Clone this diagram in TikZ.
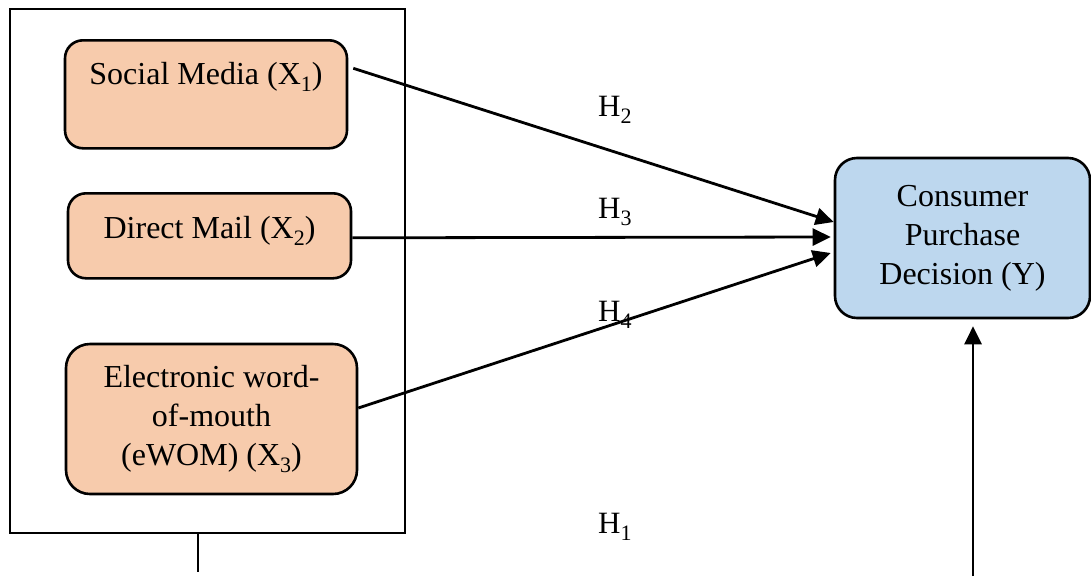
\documentclass[tikz,border=0pt]{standalone}
\usepackage{fontspec}
\setmainfont{Liberation Serif}
\usetikzlibrary{arrows.meta,calc}
\definecolor{orfill}{HTML}{F7CBAC}
\definecolor{blfill}{HTML}{BDD7EE}
\newcommand{\sbs}[1]{\raisebox{-0.24em}{\fontsize{22}{22}\selectfont #1}}
\begin{document}
\begin{tikzpicture}[x=1pt,y=-1pt,
  every node/.style={font=\fontsize{32}{39}\selectfont},
  varbox/.style={draw=black, line width=2.6pt, fill=orfill, rounded corners=18pt, align=center, inner xsep=0pt},
  depbox/.style={draw=black, line width=2.6pt, fill=blfill, rounded corners=22pt, align=center, inner sep=0pt},
  conn/.style={line width=2.8pt, -{Triangle[length=18pt,width=17pt]}},
  hlab/.style={anchor=base west, inner sep=0pt, font=\fontsize{31}{39}\selectfont}
]
\useasboundingbox (0,0) rectangle (1091,576);
% outer frame
\node[draw, line width=2.6pt, minimum width=395pt, minimum height=524pt, inner sep=0pt] (outer) at (207.5,271) {};
% independent variables
\node[varbox, anchor=north, minimum width=282pt, inner ysep=0pt, text height=44pt, text depth=64pt] (sm) at (206,39) {Social Media (X\sbs{1})};
\node[varbox, anchor=north, minimum width=283pt, inner ysep=0pt, text height=45pt, text depth=40pt] (dm) at (209.5,192) {Direct Mail (X\sbs{2})};
\node[varbox, minimum width=291pt, minimum height=150pt, rounded corners=24pt] (ew) at (211.5,419) {Electronic word-\\of-mouth\\(eWOM) (X\sbs{3})};
% dependent variable
\node[depbox, minimum width=255pt, minimum height=160pt] (cp) at (962.5,238) {Consumer\\Purchase\\Decision (Y)};
% free ends
\coordinate (bot) at (973,576);
\coordinate (tail) at (198,572);
% connectors
\draw[conn] ($(sm.east)+(5,-26)$) -- ($(cp.west)+(0,-16)$);
\draw[conn] ($(dm.east)+(0,2)$) -- ($(cp.west)+(-3,-1)$);
\draw[conn] ($(ew.east)+(0,-11)$) -- ($(cp.west)+(-3,15)$);
\draw[conn] (bot) -- ($(cp.south)+(10.5,7)$);
\draw[line width=1.4pt] ($(outer.south)+(-9.5,0)$) -- (tail);
% hypothesis labels
\node[hlab] (h2) at (598,116) {H\sbs{2}};
\node[hlab] (h3) at (598,218) {H\sbs{3}};
\node[hlab] (h4) at (598,321) {H\sbs{4}};
\node[hlab] (h1) at (598,533) {H\sbs{1}};
\end{tikzpicture}
\end{document}
